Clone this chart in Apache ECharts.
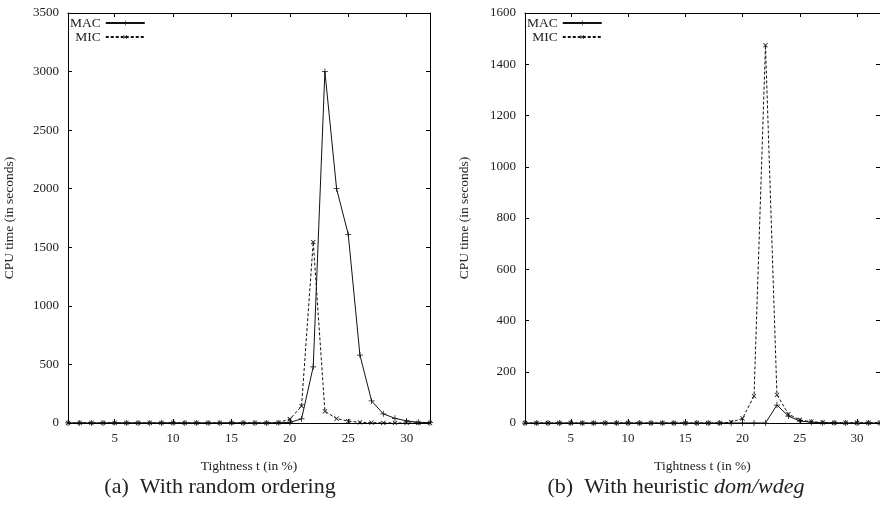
<!DOCTYPE html>
<html>
<head>
<meta charset="utf-8">
<script src="https://cdn.jsdelivr.net/npm/echarts@6/dist/echarts.min.js"></script>
<style>html,body{margin:0;padding:0;background:#fff}#c{width:880px;height:506px}</style>
</head>
<body>
<div id="c"></div>
<script>
var tightness = [1,2,3,4,5,6,7,8,9,10,11,12,13,14,15,16,17,18,19,20,21,22,23,24,25,26,27,28,29,30,31,32];
var macRandom = [1,1,1,1,2,1,1,1,1,2,1,1,1,1,2,1,1,1,2,5,35,480,3000,2000,1610,580,188,78,40,18,6,3];
var micRandom = [1,1,1,1,1,1,1,1,1,1,1,1,1,1,1,1,1,1,4,32,145,1545,100,38,16,6,3,2,1,1,1,1];
var macWdeg = [0,0,0,0,0,0,0,0,0,0,0,0,0,0,0,0,0,0,0,0,0,0,70,27,8,3,1,1,0,0,0,0];
var micWdeg = [0,0,0,0,0,0,0,0,0,0,0,0,0,0,0,0,0,0,3,18,105,1475,110,35,12,5,2,1,1,1,1,1];
var xTicks = [5,10,15,20,25,30];
var yMaxA = 3500, yStepA = 500;
var yMaxB = 1600, yStepB = 200;
var seriesNames = ['MAC','MIC'];
var xTitle = 'Tightness t (in %)';
var yTitle = 'CPU time (in seconds)';

var FONT = 'Liberation Serif';
var TXT = '#222';
var plus = 'path://M0,3.5H8V4.5H0Z M3.5,0H4.5V8H3.5Z';
function pairs(ys){ return tightness.map(function(t,i){ return [t, ys[i]]; }); }

var grids = [
  {left:68, right:450, top:13, bottom:83},
  {left:525, right:-8, top:13, bottom:83}
];
var xAxes = [], yAxes = [];
[0,1].forEach(function(g){
  var ymax = g===0 ? yMaxA : yMaxB, ystep = g===0 ? yStepA : yStepB;
  xAxes.push({type:'value', gridIndex:g, position:'bottom', min:1, max:32,
    name:xTitle, nameLocation:'middle', nameGap:36,
    nameTextStyle:{fontFamily:FONT, fontSize:13.5, color:TXT},
    axisLine:{onZero:false, lineStyle:{color:'#000', width:1}},
    axisTick:{inside:true, length:4, customValues:xTicks, lineStyle:{color:'#000'}},
    axisLabel:{customValues:xTicks, fontFamily:FONT, fontSize:13, color:TXT, margin:9},
    splitLine:{show:false}});
  xAxes.push({type:'value', gridIndex:g, position:'top', min:1, max:32,
    axisLine:{onZero:false, lineStyle:{color:'#000', width:1}},
    axisTick:{inside:true, length:4, customValues:xTicks, lineStyle:{color:'#000'}},
    axisLabel:{show:false}, splitLine:{show:false}});
  yAxes.push({type:'value', gridIndex:g, position:'left', min:0, max:ymax, interval:ystep,
    name:yTitle, nameLocation:'middle', nameGap:g===0?52:54,
    nameTextStyle:{fontFamily:FONT, fontSize:13.5, color:TXT},
    axisLine:{show:true, lineStyle:{color:'#000', width:1}},
    axisTick:{show:true, inside:true, length:4, lineStyle:{color:'#000'}},
    axisLabel:{fontFamily:FONT, fontSize:13, color:TXT, margin:9, formatter:function(v){return String(v);}},
    splitLine:{show:false}});
  yAxes.push({type:'value', gridIndex:g, position:'right', min:0, max:ymax, interval:ystep,
    axisLine:{show:true, lineStyle:{color:'#000', width:1}},
    axisTick:{show:true, inside:true, length:4, lineStyle:{color:'#000'}},
    axisLabel:{show:false}, splitLine:{show:false}});
});

function mk(name, data, g, dashed){
  return {name:name, type:'line', xAxisIndex:g*2, yAxisIndex:g*2, data:pairs(data),
    symbol:plus, symbolSize:6, symbolRotate: dashed?45:0, showSymbol:true,
    itemStyle:{color:'#111'},
    lineStyle:{color:'#111', width:1, type: dashed?[3,2]:'solid'},
    emphasis:{disabled:true}, animation:false, z: dashed?3:4};
}

function legendAt(x){
  return {left:x, top:16, orient:'vertical', align:'right', padding:0, itemGap:0, itemWidth:39, itemHeight:6,
    data:seriesNames, textStyle:{fontFamily:FONT, fontSize:13.5, color:TXT}};
}

var option = {
  animation:false,
  backgroundColor:'#fff',
  grid: grids,
  xAxis: xAxes,
  yAxis: yAxes,
  legend: [legendAt(70), legendAt(527)],
  title: [
    {text:'(a)  With random ordering', left:220, top:476, textAlign:'center', padding:0,
     textStyle:{fontFamily:FONT, fontSize:22, fontWeight:'normal', color:TXT}},
    {text:'{n|(b)  With heuristic }{i|dom/wdeg}', left:676, top:476, textAlign:'center', padding:0,
     textStyle:{fontFamily:FONT, fontSize:22, fontWeight:'normal', color:TXT,
       rich:{n:{fontFamily:FONT, fontSize:22, color:TXT}, i:{fontFamily:FONT, fontSize:22, fontStyle:'italic', color:TXT}}}}
  ],
  series: [
    mk('MAC', macRandom, 0, false),
    mk('MIC', micRandom, 0, true),
    mk('MAC', macWdeg, 1, false),
    mk('MIC', micWdeg, 1, true)
  ]
};
var chart = echarts.init(document.getElementById('c'), null, {renderer:'canvas'});
chart.setOption(option);
</script>
</body>
</html>
